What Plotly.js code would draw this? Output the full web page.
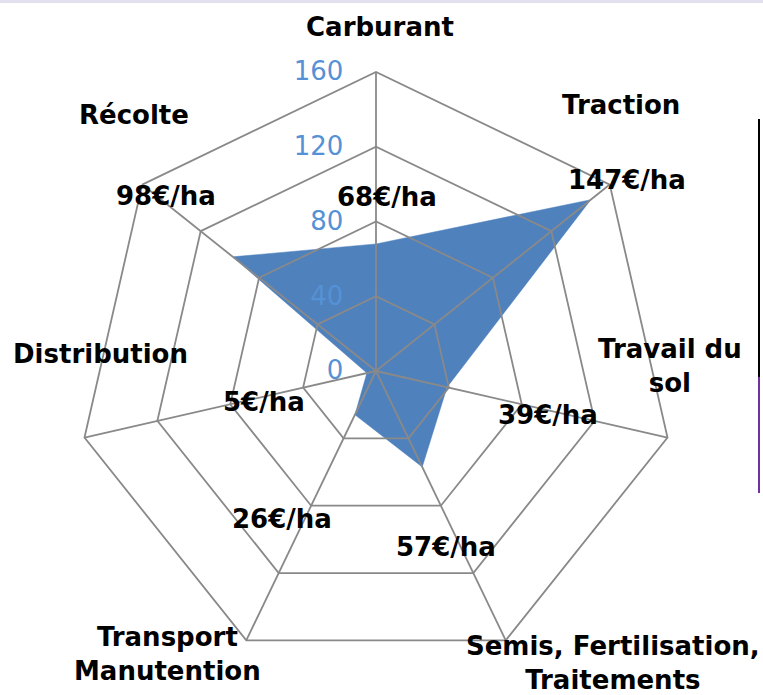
<!DOCTYPE html>
<html>
<head>
<meta charset="utf-8">
<script src="https://cdn.plot.ly/plotly-3.0.1.min.js"></script>
<style>html,body{margin:0;padding:0;background:#fff;}#chart{width:763px;height:695px;}</style>
</head>
<body>
<div id="chart"></div>
<script>
const categories = ['Carburant', 'Traction', 'Travail du sol', 'Semis, Fertilisation, Traitements', 'Transport Manutention', 'Distribution', 'Récolte'];
const categoryLabels = ['Carburant', 'Traction', 'Travail du<br>sol', 'Semis, Fertilisation,<br>Traitements', 'Transport<br>Manutention', 'Distribution', 'Récolte'];
const values = [68, 147, 39, 57, 26, 5, 98];
const radialTicks = [0, 40, 80, 120, 160];

// label placement (pixel centres) – layout only
const W = 763, H = 695;
const catPos = [[380, 27], [621, 105], [670, 366], [613, 663], [167, 654], [100, 354], [134, 115]];
const valPos = [[387, 197], [627, 180], [548, 415], [446, 547], [282, 519], [264, 402], [166, 196]];

const cx = 376, cy = 371, R = 299;
const domain = {x: [(cx - R) / W, (cx + R) / W], y: [(H - cy - R) / H, (H - cy + R) / H]};

const thetaClosed = categories.concat([categories[0]]);
const rClosed = values.concat([values[0]]);

const data = [
  {type: 'scatterpolar', subplot: 'polar', r: rClosed, theta: thetaClosed, mode: 'lines', fill: 'toself',
   fillcolor: '#4F81BD', line: {color: '#4F81BD', width: 0.5}, hoverinfo: 'skip'},
  {type: 'scatterpolar', subplot: 'polar2', r: categories.map(() => 0), theta: categories, mode: 'lines',
   line: {width: 0, color: 'rgba(0,0,0,0)'}, hoverinfo: 'skip'}
];

const gridColor = '#898989';
function polarCfg(showGrid) {
  return {
    domain: domain,
    bgcolor: 'rgba(0,0,0,0)',
    gridshape: 'linear',
    radialaxis: {
      range: [0, 160], tickvals: radialTicks, ticktext: radialTicks.map(String),
      angle: 90, side: 'counterclockwise', showline: false, visible: showGrid,
      showgrid: showGrid, gridcolor: gridColor, gridwidth: 1.8,
      showticklabels: showGrid, ticks: showGrid ? 'outside' : '', ticklen: 23, tickcolor: 'rgba(0,0,0,0)',
      tickfont: {family: 'DejaVu Sans', size: 26, color: '#5591D5'}, tickangle: 90
    },
    angularaxis: {
      type: 'category', categoryarray: categories, rotation: 90, direction: 'clockwise',
      showgrid: showGrid, gridcolor: gridColor, gridwidth: 1.8,
      showline: showGrid, linecolor: gridColor, linewidth: 1.8,
      showticklabels: false, ticks: '', visible: showGrid
    }
  };
}

const annotations = [];
categories.forEach((c, i) => {
  annotations.push({xref: 'paper', yref: 'paper', x: catPos[i][0] / W, y: 1 - catPos[i][1] / H,
    xanchor: 'center', yanchor: 'middle', showarrow: false, text: categoryLabels[i],
    font: {family: 'DejaVu Sans', size: 26, color: '#000', weight: 'bold'}});
  annotations.push({xref: 'paper', yref: 'paper', x: valPos[i][0] / W, y: 1 - valPos[i][1] / H,
    xanchor: 'center', yanchor: 'middle', showarrow: false, text: values[i] + '€/ha',
    font: {family: 'DejaVu Sans', size: 26, color: '#000', weight: 'bold'}});
});

const layout = {
  width: W, height: H, margin: {l: 0, r: 0, t: 0, b: 0},
  paper_bgcolor: '#fff', showlegend: false,
  polar: polarCfg(false),
  polar2: polarCfg(true),
  annotations: annotations,
  shapes: [
    {type: 'rect', xref: 'paper', yref: 'paper', x0: 0, x1: 1, y0: 1 - 3 / H, y1: 1, fillcolor: '#E2DFEE', line: {width: 0}},
    {type: 'line', xref: 'paper', yref: 'paper', x0: 759 / W, x1: 759 / W, y0: 1 - 119 / H, y1: 1 - 377 / H, line: {color: '#000', width: 2}},
    {type: 'line', xref: 'paper', yref: 'paper', x0: 759 / W, x1: 759 / W, y0: 1 - 377 / H, y1: 1 - 493 / H, line: {color: '#7030A0', width: 2}}
  ]
};

Plotly.newPlot('chart', data, layout, {staticPlot: true});
</script>
</body>
</html>
